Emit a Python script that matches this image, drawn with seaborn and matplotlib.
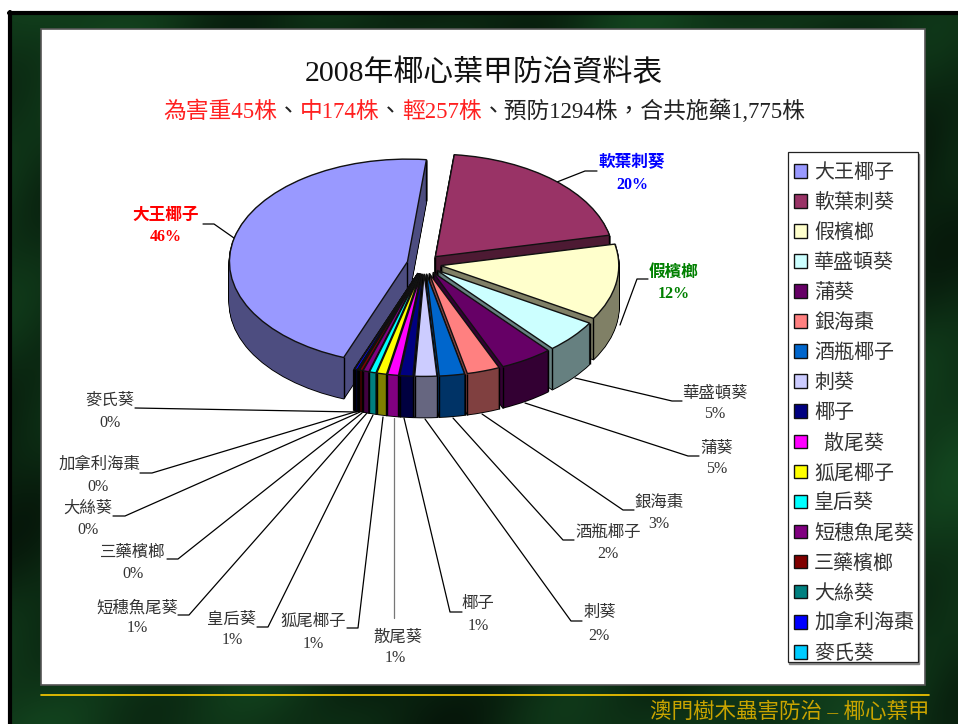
import numpy as np
import matplotlib
matplotlib.use("Agg")
import matplotlib.pyplot as plt
from matplotlib.font_manager import FontProperties
from matplotlib.patches import Rectangle
import seaborn as sns

names = ['大王椰子', '軟葉刺葵', '假檳榔', '華盛頓葵', '蒲葵', '銀海棗', '酒瓶椰子', '刺葵', '椰子',
         '散尾葵', '狐尾椰子', '皇后葵', '短穗魚尾葵', '三藥檳榔', '大絲葵', '加拿利海棗', '麥氏葵']
legend_names = names.copy()
legend_names[9] = '  散尾葵'
shares = [46.0, 20.0, 12.0, 5.2, 4.8, 3.0, 2.3, 2.0, 1.2, 1.0, 0.9, 0.6, 0.55, 0.3, 0.15, 0.25, 0.05]
hex_colors = ['#9999FF', '#993366', '#FFFFCC', '#CCFFFF', '#660066', '#FF8080', '#0066CC', '#CCCCFF', '#000080',
              '#FF00FF', '#FFFF00', '#00FFFF', '#800080', '#800000', '#008080', '#0000FF', '#00CCFF']

title = '2008年椰心葉甲防治資料表'
subtitle_parts = [('為害重45株', '#FF2020'), ('、', '#222222'), ('中174株', '#FF2020'), ('、', '#222222'),
                  ('輕257株', '#FF2020'), ('、預防1294株\uff0c合共施藥1,775株', '#222222')]
footer = '澳門樹木蟲害防治 – 椰心葉甲'

# label name centre, percent centre, leader line (pixels)
label_pos = [
    ((166, 214), (166, 236), [(203, 224), (214, 224), (234, 238)]),
    ((632, 162), (632, 184), [(597, 171), (585, 171), (557, 182)]),
    ((674, 271), (674, 293), [(648, 279), (637, 279), (620, 325)]),
    ((715, 392), (715, 413), [(682, 401), (672, 401), (575, 378)]),
    ((717, 447), (717, 468), [(699, 456), (688, 456), (525, 403)]),
    ((659, 501), (659, 523), [(634, 510), (623, 510), (482, 414)]),
    ((608, 531), (608, 553), [(574, 540), (563, 540), (453, 418)]),
    ((600, 611), (599, 635), [(582, 621), (571, 621), (425, 419)]),
    ((478, 602), (478, 625), [(462, 612), (450, 612), (404, 418)]),
    ((398, 636), (395, 657), [(394, 618), (394, 418)]),
    ((313, 620), (313, 643), [(347, 628), (358, 628), (383, 417)]),
    ((232, 618), (232, 639), [(257, 627), (268, 627), (373, 415)]),
    ((137, 607), (137, 627), [(178, 615), (189, 615), (367, 413)]),
    ((133, 551), (133, 573), [(167, 559), (178, 559), (362, 413)]),
    ((88, 507), (88, 529), [(113, 516), (125, 516), (360, 412)]),
    ((99, 463), (98, 486), [(140, 473), (152, 473), (358, 411)]),
    ((110, 399), (110, 422), [(135, 408), (357, 412)]),
]
label_colors = {0: '#FF0000', 1: '#0000FF', 2: '#008000'}

W, H = 958, 724
CX, CY = 424, 264     # pie centre in pixels
RX, RY = 178, 102.6   # pixels per pie unit
DEPTH = 41

sns.set_theme(style='white')
cjk = ['Liberation Serif', 'Noto Sans CJK TC', 'DejaVu Sans']
plt.rcParams['font.family'] = cjk
palette = sns.color_palette(hex_colors)

fig = plt.figure(figsize=(W / 100, H / 100), dpi=100, facecolor='white')
bg_ax = fig.add_axes([0, 0, 1, 1], zorder=0)
bg_ax.set_xlim(0, W)
bg_ax.set_ylim(H, 0)
bg_ax.axis('off')

# dark green slide backdrop
gx, gy = np.meshgrid(np.linspace(0, 1, 120), np.linspace(0, 1, 90))
tex = (0.62 + 0.14 * np.sin(9 * gx + 6 * gy + 1) + 0.12 * np.sin(21 * gx - 11 * gy)
       + 0.07 * np.sin(37 * gx + 29 * gy + 2))
tex = np.clip(tex, 0.2, 1)
rgb = np.dstack([tex * 0.08, tex * 0.29, tex * 0.13])
bg_ax.imshow(rgb, extent=(9, W, H, 11), aspect='auto', interpolation='bicubic', zorder=0)
bg_ax.set_xlim(0, W)
bg_ax.set_ylim(H, 0)
bg_ax.plot([10.5, 10.5], [12, H], color='black', lw=3, zorder=1)
bg_ax.plot([9, W], [12.5, 12.5], color='black', lw=3, zorder=1)

bg_ax.add_patch(Rectangle((41, 29), 884, 656, facecolor='white', edgecolor='#555555', lw=1.2, zorder=2))
bg_ax.plot([41, 929], [694.5, 694.5], color='#FFCC00', lw=1.2, zorder=2)
bg_ax.text(930, 713, footer, color='#C9A400', fontsize=15.5, ha='right', va='center', zorder=3, clip_on=True)

bg_ax.text(484, 73, title, color='#111111', fontsize=21.5, ha='center', va='center', zorder=3)
prev = None
for part, col in subtitle_parts:
    if prev is None:
        prev = bg_ax.text(163, 118, part, color=col, fontsize=16.4, ha='left', va='baseline', zorder=3)
    else:
        prev = bg_ax.annotate(part, xy=(1, 0), xycoords=prev, color=col, fontsize=16.4,
                              ha='left', va='bottom', zorder=3)

for i, (name_xy, pct_xy, line) in enumerate(label_pos):
    col = label_colors.get(i, '#333333')
    weight = 'bold' if i in label_colors else 'normal'
    bg_ax.text(name_xy[0], name_xy[1] + 1.5, names[i], color=col, fontweight=weight,
               fontsize=12 if i in label_colors else 11.8, ha='center', va='center', zorder=3)
    bg_ax.text(pct_xy[0], pct_xy[1] + 1, f'{shares[i]:.0f}%', color=col, fontweight=weight, fontsize=11.5,
               ha='center', va='center', zorder=3)
    xs, ys = zip(*line)
    bg_ax.plot(xs, ys, color='#777777' if i == 9 else 'black', lw=0.9, zorder=3)

pie_ax = fig.add_axes([0, 0, 1, 1], zorder=1)
pie_ax.patch.set_alpha(0)

pcts = np.array(shares) / np.sum(shares)
clock_start = 201
bounds = clock_start + np.concatenate([[0], np.cumsum(pcts) * 360])
mids = (bounds[:-1] + bounds[1:]) / 2
rank = np.argsort(np.argsort(-np.cos(np.radians(mids))))
explode = [17 / RX] * len(shares)
side_colors = [tuple(np.array(c) * 0.5) for c in palette]
pie_kw = dict(explode=explode, startangle=90 - clock_start, counterclock=False, radius=1)

# extrude each slice by stacking pies, far slices first
for layer in range(DEPTH, 0, -1):
    center = (0, -layer / RY)
    under, _ = pie_ax.pie(shares, colors=['black'] * len(shares), center=center,
                          wedgeprops=dict(edgecolor='black', linewidth=1.3), **pie_kw)
    over, _ = pie_ax.pie(shares, colors=side_colors, center=center,
                         wedgeprops=dict(edgecolor='none', linewidth=0), **pie_kw)
    for k in range(len(shares)):
        under[k].set_zorder(rank[k] * 10 + 1)
        over[k].set_zorder(rank[k] * 10 + 2)

top, _ = pie_ax.pie(shares, colors=palette, wedgeprops=dict(edgecolor='#111111', linewidth=1.0), **pie_kw)
for k, w in enumerate(top):
    w.set_zorder(rank[k] * 10 + 4)
    x0, y0 = w.center
    corners = [(x0, y0)]
    for th in (w.theta1, w.theta2):
        corners.append((x0 + np.cos(np.radians(th)), y0 + np.sin(np.radians(th))))
    for px, py in corners:
        pie_ax.plot([px, px], [py, py - DEPTH / RY], color='black', lw=1.0, zorder=rank[k] * 10 + 3,
                    solid_capstyle='butt')

pie_ax.set_aspect('auto')
pie_ax.set_xlim(-CX / RX, (W - CX) / RX)
pie_ax.set_ylim(-(H - CY) / RY, CY / RY)
pie_ax.axis('off')

leg_ax = fig.add_axes([0, 0, 1, 1], zorder=2)
leg_ax.set_xlim(0, W)
leg_ax.set_ylim(H, 0)
leg_ax.axis('off')
# legend box with a grey drop edge, entries sit slightly low in it as in the slide
leg_ax.add_patch(Rectangle((789.5, 153.5), 130, 510, facecolor='#888888', edgecolor='#888888', lw=1))
leg_ax.add_patch(Rectangle((788, 152), 130, 510, facecolor='white', edgecolor='#222222', lw=0.9))
leg = leg_ax.legend(top, legend_names, loc='upper left', bbox_to_anchor=(788, 158), bbox_transform=leg_ax.transData,
                    borderaxespad=0, prop=FontProperties(family=cjk, size=14.4), frameon=False,
                    handlelength=0.65, handleheight=0.65, handletextpad=0.35,
                    labelspacing=0.55, borderpad=0.3, labelcolor='#333333')

fig.savefig('out.png', dpi=100, facecolor='white')
plt.close(fig)
